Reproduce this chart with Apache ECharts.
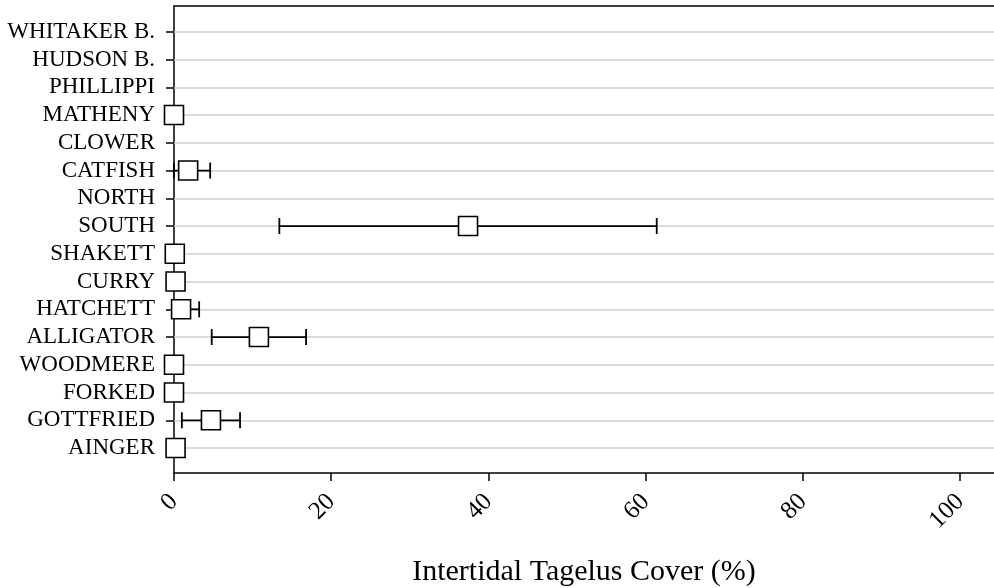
<!DOCTYPE html>
<html>
<head>
<meta charset="utf-8">
<script src="https://cdn.jsdelivr.net/npm/echarts@6/dist/echarts.min.js"></script>
<style>
html,body{margin:0;padding:0;background:#fff;}
#chart{width:994px;height:588px;}
</style>
</head>
<body>
<div id="chart"></div>
<script>
const categories = ['AINGER','GOTTFRIED','FORKED','WOODMERE','ALLIGATOR','HATCHETT','CURRY','SHAKETT','SOUTH','NORTH','CATFISH','CLOWER','MATHENY','PHILLIPPI','HUDSON B.','WHITAKER B.'];
const meanCover = [0.2, 4.7, 0, 0, 10.8, 0.9, 0.2, 0.1, 37.4, null, 1.8, null, 0, null, null, null];
const errCover  = [0, 3.7, 0, 0, 6.0, 2.3, 0, 0, 24.0, null, 2.8, null, 0, null, null, null];
const xTickValues = [0, 20, 40, 60, 80, 100];
const axisTitle = 'Intertidal Tagelus Cover (%)';

const FONT = "'Liberation Serif','DejaVu Serif',serif";
const catIdx = categories.map((c, i) => i);

const pointData = [];
const errData = [];
meanCover.forEach((m, i) => {
  if (m === null) return;
  pointData.push([m, i]);
  const e = errCover[i];
  if (e > 0) errData.push([Math.max(0, m - e), m + e, i]);
});

const chart = echarts.init(document.getElementById('chart'), null, {renderer: 'canvas'});
chart.setOption({
  animation: false,
  backgroundColor: '#fff',
  grid: {left: 174, right: 0, top: 6, bottom: 115, containLabel: false, outerBoundsMode: 'none'},
  xAxis: [{
    type: 'value', position: 'bottom', min: 0, max: 104.3, interval: 20,
    name: axisTitle, nameLocation: 'middle', nameGap: 84,
    nameTextStyle: {fontFamily: FONT, fontSize: 30, color: '#000'},
    axisLine: {show: true, onZero: false, lineStyle: {color: '#000', width: 1.5}},
    axisTick: {show: true, length: 8, lineStyle: {color: '#000', width: 1.5}, customValues: xTickValues},
    axisLabel: {show: true, customValues: xTickValues, rotate: 45, margin: 25,
      fontFamily: FONT, fontSize: 25, color: '#000'},
    splitLine: {show: false}
  }, {
    type: 'value', position: 'top', min: 0, max: 104.3,
    axisLine: {show: true, onZero: false, lineStyle: {color: '#000', width: 1.5}},
    axisTick: {show: false}, axisLabel: {show: false}, splitLine: {show: false}
  }],
  yAxis: {
    type: 'value', min: -0.9, max: 15.93,
    axisLine: {show: true, onZero: false, lineStyle: {color: '#000', width: 1.5}},
    axisTick: {show: true, length: 8, lineStyle: {color: '#000', width: 1.5}, customValues: catIdx},
    axisLabel: {show: true, customValues: catIdx, margin: 19,
      formatter: v => categories[Math.round(v)] || '',
      fontFamily: FONT, fontSize: 23, color: '#000'},
    splitLine: {show: false}
  },
  series: [{
    type: 'line', data: [], silent: true, z: 1,
    markLine: {
      silent: true, symbol: 'none', label: {show: false}, z: 1,
      lineStyle: {color: '#cfcfcf', width: 1.5, type: 'solid'},
      data: catIdx.map(i => ({yAxis: i}))
    }
  }, {
    type: 'custom', z: 10, silent: true,
    encode: {x: [0, 1], y: 2},
    data: errData,
    renderItem: function (params, api) {
      const y = api.value(2);
      const p1 = api.coord([api.value(0), y]);
      const p2 = api.coord([api.value(1), y]);
      const h = 8;
      const st = {stroke: '#000', lineWidth: 1.8, opacity: 1};
      return {type: 'group', children: [
        {type: 'line', shape: {x1: p1[0], y1: p1[1], x2: p2[0], y2: p2[1]}, style: st},
        {type: 'line', shape: {x1: p1[0], y1: p1[1] - h, x2: p1[0], y2: p1[1] + h}, style: st},
        {type: 'line', shape: {x1: p2[0], y1: p2[1] - h, x2: p2[0], y2: p2[1] + h}, style: st}
      ]};
    }
  }, {
    type: 'scatter', z: 20, silent: true,
    data: pointData, symbol: 'rect', symbolSize: 19,
    itemStyle: {color: '#fff', borderColor: '#000', borderWidth: 1.6, opacity: 1}
  }]
});
</script>
</body>
</html>
